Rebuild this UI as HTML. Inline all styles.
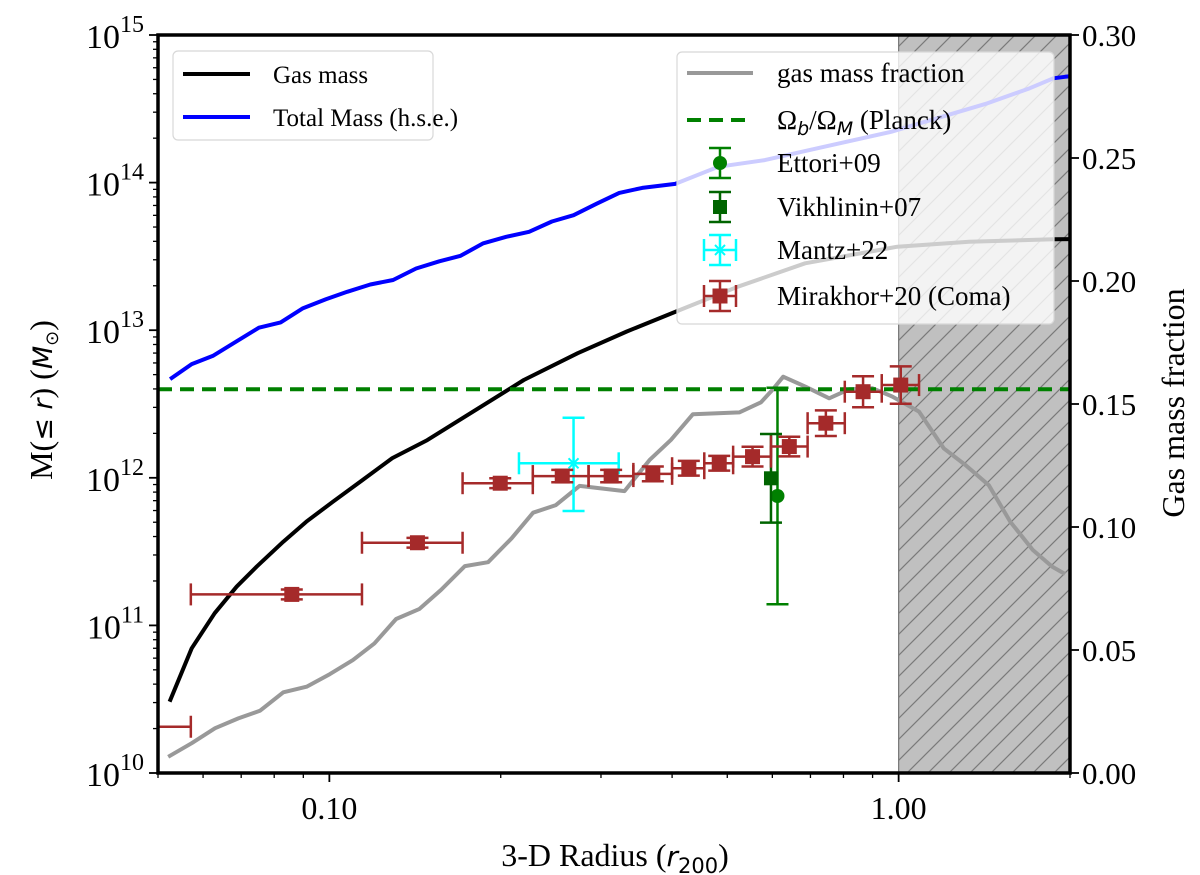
<!DOCTYPE html>
<html><head><meta charset="utf-8"><style>
html,body{margin:0;padding:0;background:#fff;}
svg{display:block;font-family:"Liberation Serif","DejaVu Serif",serif;}
</style></head><body>
<svg id="chart" width="1200" height="875" viewBox="0 0 1200 875" xmlns="http://www.w3.org/2000/svg">
<defs>
<pattern id="hatch" patternUnits="userSpaceOnUse" width="21" height="21">
<rect width="21" height="21" fill="#c0c0c0"/>
<path d="M-5,26 L26,-5 M-5,5 L5,-5 M16,26 L26,16" stroke="#7a7a7a" stroke-width="1.2"/>
</pattern>
<clipPath id="plotclip"><rect x="158" y="35" width="912" height="738"/></clipPath>
</defs>
<g id="plot" clip-path="url(#plotclip)"></g>
<g id="axes"></g>
<g id="legends"></g>
</svg>
<script>
// ---- data ----
const blueR = [0.0525,0.0573,0.0624,0.0685,0.0752,0.0821,0.0899,0.0986,0.1075,0.118,0.1294,0.142,0.156,0.170,0.1864,0.2045,0.2243,0.246,0.2685,0.2945,0.323,0.3545,0.405,0.482,0.582,0.741,0.970,1.43,1.70,1.87,1.96,2.0];
const blueM = [4.66e12,5.89e12,6.7e12,8.34e12,1.04e13,1.13e13,1.41e13,1.62e13,1.82e13,2.04e13,2.19e13,2.62e13,2.93e13,3.19e13,3.88e13,4.29e13,4.64e13,5.45e13,6.01e13,7.18e13,8.51e13,9.2e13,9.8e13,1.28e14,1.42e14,1.75e14,2.21e14,3.44e14,4.36e14,5.09e14,5.21e14,5.25e14];
const gasR = [0.0524,0.0573,0.0629,0.0687,0.0745,0.083,0.0911,0.1014,0.1144,0.129,0.1486,0.2196,0.273,0.333,0.405,0.522,0.685,0.995,1.33,1.87,2.0];
const gasM = [3.04e10,7.0e10,1.21e11,1.83e11,2.5e11,3.69e11,5.04e11,6.88e11,9.66e11,1.36e12,1.80e12,4.6e12,6.98e12,9.8e12,1.33e13,1.97e13,2.84e13,3.68e13,3.98e13,4.13e13,4.14e13];
const fracR = [0.0521,0.0573,0.0630,0.0692,0.0755,0.0830,0.0912,0.1002,0.110,0.120,0.131,0.144,0.157,0.173,0.190,0.209,0.228,0.250,0.275,0.330,0.365,0.398,0.435,0.525,0.573,0.600,0.627,0.687,0.755,0.819,0.900,0.975,1.086,1.20,1.31,1.44,1.57,1.72,1.86,1.96];
const fracV = [0.0066,0.0121,0.0182,0.0222,0.0253,0.0328,0.0351,0.0402,0.0459,0.0527,0.0626,0.0667,0.0744,0.0841,0.0857,0.0954,0.1058,0.1089,0.1167,0.1146,0.1272,0.1354,0.1458,0.1466,0.1507,0.1557,0.1611,0.157,0.1523,0.156,0.1564,0.153,0.1469,0.132,0.1252,0.117,0.1022,0.0907,0.0839,0.0809];
const planckF = 0.156;
const mirR  = [0.045,0.0859,0.1428,0.1996,0.2565,0.3126,0.370,0.428,0.484,0.5538,0.6426,0.745,0.866,1.0086];
const mirLo = [0.035,0.0571,0.1141,0.1714,0.2277,0.2853,0.342,0.4,0.4556,0.512,0.5967,0.692,0.8043,0.934];
const mirHi = [0.0571,0.1141,0.1714,0.2277,0.2853,0.342,0.4,0.4556,0.512,0.5967,0.692,0.8043,0.934,1.086];
const mirF  = [0.0188,0.0726,0.0936,0.1178,0.1207,0.1207,0.1216,0.1239,0.1259,0.1286,0.1327,0.1422,0.155,0.1577];
const mirE  = [0,0.002,0.002,0.002,0.0025,0.0025,0.003,0.003,0.003,0.004,0.004,0.0052,0.0063,0.0076];
const ettR = [0.6126], ettF = [0.1126], ettE = [0.044];
const vikR = [0.5967], vikF = [0.1198], vikE = [0.018];
const mantzR = [0.2685], mantzLo = [0.2153], mantzHi = [0.3223], mantzF = [0.1259], mantzEup = [0.0185], mantzEdn = [0.0194];
const xTicks = [0.1, 1.0], xTickLabels = ["0.10","1.00"];
const yLeftExp = [10,11,12,13,14,15];
const yRightTicks = [0,0.05,0.10,0.15,0.20,0.25,0.30], yRightLabels = ["0.00","0.05","0.10","0.15","0.20","0.25","0.30"];

// ---- scales ----
const L=158,R=1070,T=35,B=773;
const xmin=Math.log10(0.05), xmax=Math.log10(2.0);
const X = r => L + (Math.log10(r)-xmin)/(xmax-xmin)*(R-L);
const YL = m => B - (Math.log10(m)-10)/5*(B-T);
const YR = f => B - f/0.3*(B-T);
const NS="http://www.w3.org/2000/svg";
function mk(tag, parent, attrs){const e=document.createElementNS(NS,tag);for(const k in attrs)e.setAttribute(k,attrs[k]);parent.appendChild(e);return e;}
const plot=document.getElementById('plot'), axes=document.getElementById('axes'), leg=document.getElementById('legends');
const LW=4;

let hz=mk('rect',plot,{x:X(1.0),y:T,width:R-X(1.0),height:B-T,fill:'url(#hatch)',stroke:'#777','stroke-width':1.2});



function line(xs,ys,fx,fy,color,name,dash){
  const d=xs.map((v,i)=>(i?'L':'M')+fx(v).toFixed(1)+','+fy(ys[i]).toFixed(1)).join(' ');
  const p=mk('path',plot,{d:d,fill:'none',stroke:color,'stroke-width':LW,'stroke-linejoin':'round'});
  if(dash)p.setAttribute('stroke-dasharray',dash);
  
  
  return p;
}
line(fracR,fracV,X,YR,'#999999','gas-fraction-line');
line(gasR,gasM,X,YL,'#000000','gas-mass-line');
line(blueR,blueM,X,YL,'#0000ff','total-mass-line');
let pl=mk('line',plot,{x1:L,x2:R,y1:YR(planckF),y2:YR(planckF),stroke:'#008000','stroke-width':LW,'stroke-dasharray':'14,8'});



function errbar(g,cx,cy,x1,x2,y1,y2,color,w){
  if(x1!==null){mk('line',g,{x1:x1,x2:x2,y1:cy,y2:cy,stroke:color,'stroke-width':w});
    mk('line',g,{x1:x1,x2:x1,y1:cy-11,y2:cy+11,stroke:color,'stroke-width':w});
    mk('line',g,{x1:x2,x2:x2,y1:cy-11,y2:cy+11,stroke:color,'stroke-width':w});}
  if(y1!==null){mk('line',g,{x1:cx,x2:cx,y1:y1,y2:y2,stroke:color,'stroke-width':w});
    mk('line',g,{x1:cx-11,x2:cx+11,y1:y1,y2:y1,stroke:color,'stroke-width':w});
    mk('line',g,{x1:cx-11,x2:cx+11,y1:y2,y2:y2,stroke:color,'stroke-width':w});}
}
ettR.forEach((r,i)=>{const g=mk('g',plot,{});
  
  
  errbar(g,X(r),YR(ettF[i]),null,null,YR(ettF[i]+ettE[i]),YR(ettF[i]-ettE[i]),'#008000',2.5);
  mk('circle',g,{cx:X(r),cy:YR(ettF[i]),r:7,fill:'#008000'});});
vikR.forEach((r,i)=>{const g=mk('g',plot,{});
  
  
  errbar(g,X(r),YR(vikF[i]),null,null,YR(vikF[i]+vikE[i]),YR(vikF[i]-vikE[i]),'#006400',2.5);
  mk('rect',g,{x:X(r)-7,y:YR(vikF[i])-7,width:14,height:14,fill:'#006400'});});
mantzR.forEach((r,i)=>{const g=mk('g',plot,{});
  
  
  const cx=X(r),cy=YR(mantzF[i]);
  errbar(g,cx,cy,X(mantzLo[i]),X(mantzHi[i]),YR(mantzF[i]+mantzEup[i]),YR(mantzF[i]-mantzEdn[i]),'#00ffff',2.5);
  mk('path',g,{d:`M${cx-7},${cy} L${cx+7},${cy} M${cx},${cy-7} L${cx},${cy+7} M${cx-5},${cy-5} L${cx+5},${cy+5} M${cx-5},${cy+5} L${cx+5},${cy-5}`,stroke:'#00ffff','stroke-width':2});});
mirR.forEach((r,i)=>{const g=mk('g',plot,{});
  
  
  const cx=X(r),cy=YR(mirF[i]);
  errbar(g,cx,cy,X(mirLo[i]),X(mirHi[i]),mirE[i]?YR(mirF[i]+mirE[i]):null,mirE[i]?YR(mirF[i]-mirE[i]):null,'#a52a2a',2.5);
  mk('rect',g,{x:cx-7.5,y:cy-7.5,width:15,height:15,fill:'#a52a2a'});});

// ---- axes ----
let fr=mk('rect',axes,{x:L,y:T,width:R-L,height:B-T,fill:'none',stroke:'#000','stroke-width':3.5});


for(let d=-2;d<=0;d++)for(let m=1;m<=9;m++){const v=m*Math.pow(10,d);if(v<0.05-1e-9||v>2.0001)continue;
  const big=(m===1);mk('line',axes,{x1:X(v),x2:X(v),y1:B,y2:B+(big?9:5),stroke:'#000','stroke-width':big?1.8:1.3});}
xTicks.forEach((v,i)=>{const t=mk('text',axes,{x:X(v),y:B+46,'font-size':32,'text-anchor':'middle'});t.textContent=xTickLabels[i];
  
  });
for(let e=10;e<15;e++)for(let m=2;m<=9;m++){const y=YL(m*Math.pow(10,e));mk('line',axes,{x1:L-5,x2:L,y1:y,y2:y,stroke:'#000','stroke-width':1.3});}
yLeftExp.forEach(e=>{const y=YL(Math.pow(10,e));mk('line',axes,{x1:L-9,x2:L,y1:y,y2:y,stroke:'#000','stroke-width':1.8});
  const t=mk('text',axes,{x:L-14,y:y+13,'font-size':34,'text-anchor':'end'});
  t.innerHTML='10<tspan dy="-16" font-size="24">'+e+'</tspan>';
  
  });
yRightTicks.forEach((v,i)=>{const y=YR(v);mk('line',axes,{x1:R,x2:R+9,y1:y,y2:y,stroke:'#000','stroke-width':1.8});
  const t=mk('text',axes,{x:R+12,y:y+11,'font-size':31});t.textContent=yRightLabels[i];
  
  });
</script>
<script>
(function(){
const NS="http://www.w3.org/2000/svg";
const axes=document.getElementById('axes'), leg=document.getElementById('legends');
function mk(tag,p,a){const e=document.createElementNS(NS,tag);for(const k in a)e.setAttribute(k,a[k]);p.appendChild(e);return e;}
let t=mk('text',axes,{x:615,y:866,'font-size':32,'text-anchor':'middle'});
t.innerHTML='3-D Radius (<tspan font-style="italic" font-family="DejaVu Sans, sans-serif" font-size="28">r</tspan><tspan font-family="DejaVu Sans, sans-serif" font-size="21" dy="7">200</tspan><tspan dy="-7">)</tspan>';


t=mk('text',axes,{x:0,y:0,'font-size':32,'text-anchor':'middle',transform:'translate(52,400) rotate(-90)'});
t.innerHTML='M(<tspan font-family="DejaVu Sans, sans-serif" font-size="27">≤ </tspan><tspan font-style="italic" font-family="DejaVu Sans, sans-serif" font-size="27">r</tspan>) (<tspan font-style="italic" font-family="DejaVu Sans, sans-serif" font-size="27">M</tspan><tspan font-family="DejaVu Sans, sans-serif" font-size="18" dy="6">⊙</tspan><tspan dy="-6">)</tspan>';


t=mk('text',axes,{x:0,y:0,'font-size':32,'text-anchor':'middle',transform:'translate(1184,403) rotate(-90)'});
t.textContent='Gas mass fraction';



let g=mk('g',leg,{});


mk('rect',g,{x:173,y:51,width:260,height:89,rx:5,fill:'rgba(255,255,255,0.8)',stroke:'#d8d8d8','stroke-width':1.2});
mk('line',g,{x1:183,x2:250,y1:74,y2:74,stroke:'#000','stroke-width':4});
mk('line',g,{x1:183,x2:250,y1:117,y2:117,stroke:'#0000ff','stroke-width':4});
t=mk('text',g,{x:273,y:83,'font-size':25});t.textContent='Gas mass';


t=mk('text',g,{x:273,y:126,'font-size':25});t.textContent='Total Mass (h.s.e.)';



g=mk('g',leg,{});


mk('rect',g,{x:677,y:52,width:377,height:272,rx:5,fill:'rgba(255,255,255,0.8)',stroke:'#d8d8d8','stroke-width':1.2});
const hx=687,hx2=753,cx=720,tx=777;
const ys=[73,120,163,207,250,296];
mk('line',g,{x1:hx,x2:hx2,y1:ys[0],y2:ys[0],stroke:'#999','stroke-width':4});
mk('line',g,{x1:hx,x2:hx2,y1:ys[1],y2:ys[1],stroke:'#008000','stroke-width':4,'stroke-dasharray':'14,8'});
function eb(y,color,vert,horiz){ if(vert){mk('line',g,{x1:cx,x2:cx,y1:y-15,y2:y+15,stroke:color,'stroke-width':2.5});
  mk('line',g,{x1:cx-11,x2:cx+11,y1:y-15,y2:y-15,stroke:color,'stroke-width':2.5});mk('line',g,{x1:cx-11,x2:cx+11,y1:y+15,y2:y+15,stroke:color,'stroke-width':2.5});}
  if(horiz){mk('line',g,{x1:cx-16,x2:cx+16,y1:y,y2:y,stroke:color,'stroke-width':2.5});
  mk('line',g,{x1:cx-16,x2:cx-16,y1:y-11,y2:y+11,stroke:color,'stroke-width':2.5});mk('line',g,{x1:cx+16,x2:cx+16,y1:y-11,y2:y+11,stroke:color,'stroke-width':2.5});}}
eb(ys[2],'#008000',true,false);mk('circle',g,{cx:cx,cy:ys[2],r:7,fill:'#008000'});
eb(ys[3],'#006400',true,false);mk('rect',g,{x:cx-7,y:ys[3]-7,width:14,height:14,fill:'#006400'});
eb(ys[4],'#00ffff',true,true);mk('path',g,{d:`M${cx-7},${ys[4]} L${cx+7},${ys[4]} M${cx-5},${ys[4]-5} L${cx+5},${ys[4]+5} M${cx-5},${ys[4]+5} L${cx+5},${ys[4]-5}`,stroke:'#00ffff','stroke-width':2});
eb(ys[5],'#a52a2a',true,true);mk('rect',g,{x:cx-7.5,y:ys[5]-7.5,width:15,height:15,fill:'#a52a2a'});
const labs=['gas mass fraction',null,'Ettori+09','Vikhlinin+07','Mantz+22','Mirakhor+20 (Coma)'];
labs.forEach((l,i)=>{const tt=mk('text',g,{x:tx,y:ys[i]+9,'font-size':27});
  if(l)tt.textContent=l;else tt.innerHTML='Ω<tspan font-style="italic" font-family="DejaVu Sans, sans-serif" font-size="19" dy="6">b</tspan><tspan dy="-6">/Ω</tspan><tspan font-style="italic" font-family="DejaVu Sans, sans-serif" font-size="19" dy="6">M</tspan><tspan dy="-6"> (Planck)</tspan>';
  
  });
})();
</script>
</body></html>
